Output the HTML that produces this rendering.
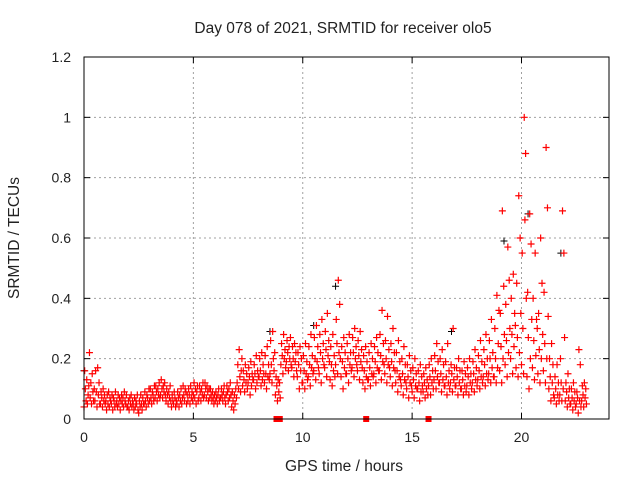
<!DOCTYPE html>
<html><head><meta charset="utf-8"><style>
body{margin:0;background:#fff}
svg{display:block;font-family:"Liberation Sans",sans-serif}
</style></head><body>
<svg id="chart" width="640" height="480" xmlns="http://www.w3.org/2000/svg">
<text x="343" y="33" text-anchor="middle" font-size="15.5" fill="#222">Day 078 of 2021, SRMTID for receiver olo5</text>
<text x="344" y="471" text-anchor="middle" font-size="15.5" fill="#222">GPS time / hours</text>
<text transform="translate(19,238) rotate(-90)" text-anchor="middle" font-size="15.5" fill="#222">SRMTID / TECUs</text>
<g id="grid"></g><g id="pts"></g><g id="axes"></g>
</svg>
<script>
const xTicks=[0,5,10,15,20];
const yTicks=[0,0.2,0.4,0.6,0.8,1,1.2];
const yTickLabels=["0","0.2","0.4","0.6","0.8","1","1.2"];
const binStart=0, binStep=0.25;
const redBins=[
[0.04,0.16,0.10,0.06,0.13,0.05,0.08,0.11],[0.22,0.07,0.12,0.05,0.15,0.09,0.06,0.10],
[0.06,0.16,0.09,0.04,0.17,0.08,0.12,0.05],[0.05,0.09,0.07,0.04,0.10,0.06,0.08,0.05],
[0.06,0.03,0.08,0.05,0.09,0.04,0.07,0.06],[0.05,0.08,0.03,0.07,0.06,0.04,0.09,0.05],
[0.06,0.04,0.08,0.05,0.07,0.03,0.06,0.08],[0.05,0.07,0.04,0.09,0.06,0.05,0.08,0.04],
[0.04,0.06,0.03,0.07,0.05,0.08,0.04,0.06],[0.05,0.03,0.07,0.04,0.06,0.05,0.08,0.03],
[0.02,0.06,0.04,0.08,0.05,0.03,0.07,0.05],[0.05,0.09,0.06,0.04,0.08,0.07,0.05,0.10],
[0.06,0.10,0.07,0.05,0.09,0.08,0.06,0.11],[0.07,0.11,0.09,0.06,0.10,0.08,0.12,0.07],
[0.08,0.13,0.10,0.07,0.11,0.09,0.12,0.08],[0.06,0.10,0.08,0.05,0.09,0.07,0.11,0.06],
[0.04,0.08,0.06,0.05,0.09,0.07,0.04,0.06],[0.05,0.09,0.07,0.04,0.08,0.06,0.10,0.05],
[0.07,0.11,0.08,0.06,0.10,0.09,0.05,0.08],[0.06,0.10,0.08,0.05,0.11,0.07,0.09,0.06],
[0.08,0.12,0.07,0.10,0.05,0.09,0.11,0.06],[0.07,0.11,0.09,0.06,0.10,0.08,0.12,0.07],
[0.08,0.12,0.10,0.07,0.11,0.09,0.06,0.10],[0.07,0.10,0.08,0.06,0.09,0.07,0.05,0.08],
[0.06,0.09,0.07,0.05,0.08,0.10,0.06,0.07],[0.07,0.10,0.08,0.06,0.09,0.11,0.07,0.05],
[0.08,0.11,0.09,0.06,0.10,0.07,0.12,0.08],[0.04,0.09,0.06,0.03,0.08,0.05,0.10,0.07],
[0.12,0.18,0.10,0.23,0.14,0.09,0.16,0.20],[0.11,0.16,0.13,0.09,0.18,0.12,0.15,0.10],
[0.12,0.17,0.14,0.08,0.19,0.11,0.15,0.13],[0.13,0.18,0.15,0.10,0.21,0.12,0.16,0.14],
[0.14,0.20,0.16,0.11,0.22,0.13,0.18,0.15],[0.12,0.21,0.15,0.10,0.24,0.14,0.18,0.13],
[0.15,0.26,0.18,0.12,0.29,0.20,0.16,0.22],[0.08,0.14,0.11,0.06,0.13,0.09,0.12,0.07],
[0.18,0.25,0.21,0.15,0.28,0.20,0.23,0.17],[0.19,0.26,0.22,0.16,0.24,0.20,0.27,0.18],
[0.17,0.24,0.20,0.14,0.25,0.19,0.22,0.16],[0.14,0.22,0.18,0.10,0.24,0.16,0.20,0.12],
[0.12,0.21,0.16,0.10,0.25,0.15,0.19,0.13],[0.14,0.24,0.18,0.11,0.28,0.17,0.21,0.15],
[0.16,0.27,0.20,0.13,0.31,0.19,0.24,0.17],[0.15,0.28,0.22,0.12,0.33,0.20,0.25,0.18],
[0.17,0.29,0.23,0.14,0.35,0.21,0.26,0.19],[0.13,0.24,0.18,0.11,0.28,0.16,0.21,0.14],
[0.18,0.33,0.25,0.15,0.46,0.22,0.38,0.20],[0.14,0.24,0.19,0.10,0.27,0.17,0.22,0.15],
[0.15,0.25,0.20,0.12,0.28,0.18,0.22,0.16],[0.17,0.27,0.22,0.14,0.30,0.20,0.24,0.18],
[0.16,0.26,0.21,0.13,0.29,0.19,0.23,0.17],[0.12,0.21,0.16,0.10,0.24,0.14,0.19,0.13],
[0.13,0.22,0.17,0.11,0.25,0.15,0.20,0.14],[0.15,0.24,0.19,0.12,0.27,0.17,0.22,0.16],
[0.16,0.28,0.21,0.13,0.36,0.19,0.25,0.18],[0.15,0.26,0.20,0.12,0.34,0.18,0.23,0.17],
[0.14,0.25,0.19,0.11,0.30,0.17,0.22,0.16],[0.12,0.22,0.16,0.09,0.26,0.14,0.19,0.13],
[0.11,0.20,0.15,0.08,0.24,0.13,0.18,0.12],[0.10,0.18,0.14,0.07,0.21,0.12,0.16,0.11],
[0.09,0.17,0.13,0.07,0.20,0.11,0.15,0.10],[0.10,0.16,0.12,0.06,0.18,0.09,0.14,0.11],
[0.09,0.15,0.12,0.07,0.17,0.10,0.13,0.08],[0.11,0.18,0.14,0.08,0.20,0.12,0.16,0.10],
[0.13,0.21,0.16,0.10,0.25,0.14,0.19,0.12],[0.12,0.20,0.15,0.09,0.23,0.13,0.18,0.11],
[0.11,0.19,0.14,0.08,0.25,0.12,0.16,0.10],[0.12,0.18,0.15,0.09,0.30,0.13,0.17,0.11],
[0.11,0.17,0.14,0.08,0.20,0.12,0.16,0.10],[0.10,0.16,0.13,0.08,0.19,0.11,0.15,0.09],
[0.11,0.17,0.14,0.08,0.20,0.12,0.15,0.10],[0.12,0.19,0.15,0.09,0.23,0.13,0.17,0.11],
[0.13,0.21,0.16,0.10,0.26,0.14,0.19,0.12],[0.14,0.23,0.18,0.11,0.28,0.15,0.20,0.13],
[0.15,0.26,0.20,0.12,0.33,0.17,0.22,0.14],[0.14,0.30,0.20,0.12,0.41,0.17,0.25,0.36],
[0.16,0.35,0.24,0.12,0.69,0.20,0.44,0.28],[0.18,0.38,0.26,0.14,0.57,0.22,0.46,0.30],
[0.20,0.40,0.28,0.15,0.48,0.24,0.35,0.31],[0.17,0.45,0.27,0.14,0.74,0.22,0.60,0.35],
[0.18,0.55,0.30,0.15,1.00,0.66,0.88,0.40],[0.14,0.42,0.27,0.10,0.68,0.20,0.58,0.33],
[0.17,0.40,0.26,0.13,0.55,0.21,0.33,0.30],[0.15,0.35,0.23,0.12,0.60,0.20,0.45,0.28],
[0.16,0.42,0.25,0.12,0.90,0.20,0.70,0.34],[0.10,0.20,0.14,0.06,0.25,0.12,0.18,0.08],
[0.07,0.14,0.10,0.05,0.18,0.08,0.12,0.06],[0.08,0.20,0.12,0.06,0.69,0.10,0.55,0.27],
[0.06,0.12,0.09,0.04,0.15,0.07,0.10,0.05],[0.05,0.10,0.07,0.03,0.12,0.06,0.09,0.04],
[0.05,0.09,0.07,0.02,0.23,0.06,0.18,0.04],[0.06,0.11,0.08,0.04,0.12,0.07,0.10,0.05]
];
const blackTimes=[0.0,8.5,10.5,11.5,16.8,19.2,20.3,21.8];
const blackValues=[0.16,0.29,0.31,0.44,0.29,0.59,0.68,0.55];
const squareTimes=[8.8,8.95,12.9,15.75];
const squareValues=[0,0,0,0];

const L=84,R=609,T=57,B=419,XMAX=24,YMAX=1.2;
const sx=v=>L+v/XMAX*(R-L), sy=v=>B-v/YMAX*(B-T);
const NS="http://www.w3.org/2000/svg";
function mk(tag,attrs,parent){const e=document.createElementNS(NS,tag);for(const k in attrs)e.setAttribute(k,attrs[k]);parent.appendChild(e);return e;}
const grid=document.getElementById('grid'),pts=document.getElementById('pts'),axes=document.getElementById('axes');
xTicks.forEach((t)=>{
  const x=sx(t);
  if(t>0){const g=mk('line',{x1:x,x2:x,y1:T,y2:B,stroke:'#a0a0a0','stroke-dasharray':'2,3'},grid);
  
  }
  mk('line',{x1:x,x2:x,y1:B,y2:B-6,stroke:'#000'},axes);
  mk('line',{x1:x,x2:x,y1:T,y2:T+6,stroke:'#000'},axes);
  const tx=mk('text',{x:x,y:B+23,'text-anchor':'middle','font-size':14,fill:'#222'},axes);
  tx.textContent=String(t);
  
  
});
yTicks.forEach((t,i)=>{
  const y=sy(t);
  if(t>0&&t<YMAX){const g=mk('line',{x1:L,x2:R,y1:y,y2:y,stroke:'#a0a0a0','stroke-dasharray':'2,3'},grid);
  
  }
  mk('line',{x1:L,x2:L+6,y1:y,y2:y,stroke:'#000'},axes);
  mk('line',{x1:R,x2:R-6,y1:y,y2:y,stroke:'#000'},axes);
  const tx=mk('text',{x:L-13,y:y+5,'text-anchor':'end','font-size':14,fill:'#222'},axes);
  tx.textContent=yTickLabels[i];
  
  
});
const frame=mk('rect',{x:L,y:T,width:R-L,height:B-T,fill:'none',stroke:'#000'},axes);


function cross(x,y){return 'M'+(x-3.5)+' '+y+'h7M'+x+' '+(y-3.5)+'v7';}
let dB='';
blackTimes.forEach((t,i)=>{dB+=cross(sx(t),sy(blackValues[i]));});
const pb=mk('path',{d:dB,stroke:'#000',fill:'none','stroke-width':1},pts);


let dR='';
redBins.forEach((bin,i)=>{
  bin.forEach((v,j)=>{
    const t=binStart+i*binStep+j*binStep/bin.length;
    dR+=cross(sx(t),sy(v));
  });
});
const pr=mk('path',{d:dR,stroke:'#ff0000',fill:'none','stroke-width':1.2},pts);


squareTimes.forEach((t,i)=>{
  const s=mk('rect',{x:sx(t)-3,y:sy(squareValues[i])-3,width:6,height:6,fill:'#ff0000'},pts);
  
  
});
</script>
</body></html>
